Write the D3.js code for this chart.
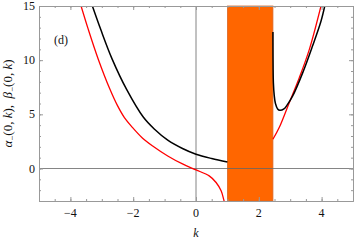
<!DOCTYPE html>
<html>
<head>
<meta charset="utf-8">
<script src="https://cdn.jsdelivr.net/npm/d3@7"></script>
<style>
  body { margin: 0; background: #fff; }
  text { font-family: "Liberation Serif", "DejaVu Serif", serif; fill: #111; }
</style>
</head>
<body>
<div id="chart"></div>
<script>
// Data
var xTicks = [-4, -2, 0, 2, 4];
var yTicks = [0, 5, 10, 15];
var gapBand = [1.0, 2.45];

// black curve (beta), left and right branch
var kBlackLeft = [-3.3, -3.03, -2.67, -2.21, -1.68, -1.33, -0.9, -0.43, 0, 0.5, 1.0];
var vBlackLeft = [15, 12.8, 10.1, 7.3, 4.75, 3.65, 2.62, 1.85, 1.32, 0.92, 0.6];
var kBlackRight = [2.45, 2.451, 2.455, 2.465, 2.49, 2.53, 2.6, 2.67, 2.8, 2.9, 3.08, 3.4, 3.71, 3.98, 4.1];
var vBlackRight = [12.6, 11, 9.3, 7.9, 6.8, 6.0, 5.5, 5.37, 5.5, 5.85, 6.7, 8.85, 11.3, 13.6, 15];

// red curve (alpha), left and right branch
var kRedLeft = [-3.66, -3.43, -3.11, -2.74, -2.5, -2.28, -2.02, -1.7, -1.38, -0.9, -0.43, 0, 0.42, 0.64, 0.80, 0.88, 0.91];
var vRedLeft = [15, 12.84, 10.07, 7.31, 5.8, 4.7, 3.78, 2.8, 2.08, 1.16, 0.42, -0.13, -0.68, -1.29, -2.06, -2.83, -3.2];
var kRedRight = [2.45, 2.65, 2.97, 3.29, 3.61, 3.98];
var vRedRight = [2.70, 3.78, 6.08, 8.39, 11.0, 15];

var svgWidth = 354;
var svgHeight = 241;
var margin = {top: 6, right: 1, bottom: 40, left: 39};
var width = svgWidth - margin.left - margin.right;
var height = svgHeight - margin.top - margin.bottom;

var svg = d3.select("#chart")
  .append("svg")
  .attr("width", svgWidth)
  .attr("height", svgHeight);

var g = svg.append("g")
  .attr("transform", `translate(${margin.left}, ${margin.top})`);

var x = d3.scaleLinear().domain([-5, 5]).range([0, width]);
var y = d3.scaleLinear().domain([-3, 15]).range([height, 0]);

g.append("clipPath").attr("id", "plotClip")
  .append("rect").attr("width", width).attr("height", height);

// orange band
g.append("rect")
  .attr("x", x(gapBand[0]))
  .attr("y", 0)
  .attr("width", x(gapBand[1]) - x(gapBand[0]))
  .attr("height", height)
  .attr("fill", "#ff6600")
  .attr("stroke", "#d9682a")
  .attr("stroke-width", 0.8);

// zero axes
g.append("line")
  .attr("x1", 0).attr("x2", width)
  .attr("y1", y(0)).attr("y2", y(0))
  .attr("stroke", "#666").attr("stroke-width", 0.8);
g.append("line")
  .attr("x1", x(0)).attr("x2", x(0))
  .attr("y1", 0).attr("y2", height)
  .attr("stroke", "#666").attr("stroke-width", 0.8);

var line = d3.line()
  .x(d => x(d[0]))
  .y(d => y(d[1]))
  .curve(d3.curveCatmullRom.alpha(0.5));

function drawCurve(ks, vs, color, w) {
  g.append("path")
    .datum(d3.zip(ks, vs))
    .attr("clip-path", "url(#plotClip)")
    .attr("fill", "none")
    .attr("stroke", color)
    .attr("stroke-width", w)
    .attr("d", line);
}

drawCurve(kRedLeft, vRedLeft, "#ff0000", 1.3);
drawCurve(kRedRight, vRedRight, "#ff0000", 1.3);
drawCurve(kBlackLeft, vBlackLeft, "#000", 1.5);
drawCurve(kBlackRight, vBlackRight, "#000", 1.5);

// frame with inward ticks on all sides
var frameColor = "#999";
var xMinor = d3.range(-5, 5.001, 0.5);
var yMinor = d3.range(-3, 15.001, 1);

function tickAxis(axis, translate) {
  var a = g.append("g").attr("transform", translate).call(axis);
  a.selectAll("path").attr("stroke", frameColor);
  a.selectAll("line").attr("stroke", frameColor);
  a.selectAll("text").remove();
  return a;
}

tickAxis(d3.axisBottom(x).tickValues(xMinor).tickSize(-2).tickSizeOuter(0), `translate(0, ${height})`);
tickAxis(d3.axisBottom(x).tickValues(xTicks).tickSize(-4).tickSizeOuter(0), `translate(0, ${height})`);
tickAxis(d3.axisTop(x).tickValues(xMinor).tickSize(-2).tickSizeOuter(0), "translate(0, 0)");
tickAxis(d3.axisTop(x).tickValues(xTicks).tickSize(-4).tickSizeOuter(0), "translate(0, 0)");
tickAxis(d3.axisLeft(y).tickValues(yMinor).tickSize(-2).tickSizeOuter(0), "translate(0, 0)");
tickAxis(d3.axisLeft(y).tickValues(yTicks).tickSize(-4).tickSizeOuter(0), "translate(0, 0)");
tickAxis(d3.axisRight(y).tickValues(yMinor).tickSize(-2).tickSizeOuter(0), `translate(${width}, 0)`);
tickAxis(d3.axisRight(y).tickValues(yTicks).tickSize(-4).tickSizeOuter(0), `translate(${width}, 0)`);

// tick labels
var fmt = d => d < 0 ? "\u2212" + Math.abs(d) : String(d);
g.selectAll(".xlab")
  .data(xTicks)
  .enter()
  .append("text")
  .attr("x", d => x(d))
  .attr("y", height + 16)
  .attr("text-anchor", "middle")
  .attr("font-size", "12px")
  .text(fmt);

g.selectAll(".ylab")
  .data(yTicks)
  .enter()
  .append("text")
  .attr("x", -4)
  .attr("y", d => y(d) + 4)
  .attr("text-anchor", "end")
  .attr("font-size", "12px")
  .text(fmt);

// axis titles
g.append("text")
  .attr("x", x(0))
  .attr("y", height + 36)
  .attr("text-anchor", "middle")
  .attr("font-size", "12px")
  .attr("font-style", "italic")
  .text("k");

var yTitle = g.append("text")
  .attr("transform", `translate(${-27}, ${height / 2}) rotate(-90)`)
  .attr("text-anchor", "middle")
  .attr("font-size", "13px");
yTitle.append("tspan").attr("font-style", "italic").text("\u03b1");
yTitle.append("tspan").attr("font-size", "9px").attr("dy", 3).text("\u2212");
yTitle.append("tspan").attr("dy", -3).text("(0, ");
yTitle.append("tspan").attr("font-style", "italic").text("k");
yTitle.append("tspan").text("),\u00a0\u00a0");
yTitle.append("tspan").attr("font-style", "italic").text("\u03b2");
yTitle.append("tspan").attr("font-size", "9px").attr("dy", 3).text("\u2212");
yTitle.append("tspan").attr("dy", -3).text("(0, ");
yTitle.append("tspan").attr("font-style", "italic").text("k");
yTitle.append("tspan").text(")");

// panel label
g.append("text")
  .attr("x", 15)
  .attr("y", 38)
  .attr("font-size", "12px")
  .text("(d)");
</script>
</body>
</html>
